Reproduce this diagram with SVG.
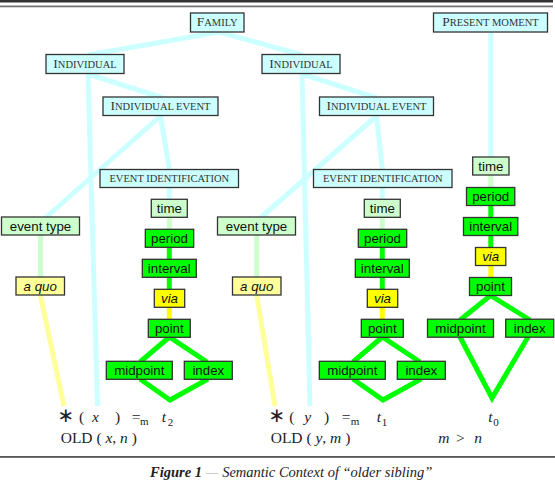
<svg xmlns="http://www.w3.org/2000/svg" width="555" height="485" viewBox="0 0 555 485">
<style>
.b{stroke:#333;stroke-width:1.3}
.cy{fill:#ccffff}.lg{fill:#ccffcc}.g{fill:#00ff00}.y{fill:#ffff00}.ly{fill:#ffff99}
.s{font-family:"Liberation Sans",Arial,sans-serif;font-size:13.3px;fill:#111;text-anchor:middle}
.sc{font-family:"Liberation Serif","Times New Roman",serif;fill:#333;text-anchor:middle;font-size:10.5px}
.big{font-size:13.5px}
.f{font-family:"Liberation Serif","Times New Roman",serif;font-size:15.5px;fill:#222}
.sub{font-size:11px}
.i{font-style:italic}
.ast{font-family:"DejaVu Sans",sans-serif;font-size:20px}
.c path,.c line,.c polyline{fill:none;stroke-width:5}
.kc{stroke:#ccffff}.klg{stroke:#ccffcc}.kg{stroke:#00ff00}.ky{stroke:#ffff00}.kly{stroke:#ffff99}
</style>
<rect x="0" y="0" width="553" height="2.5" fill="#333"/>
<rect x="0" y="5.5" width="553" height="1.8" fill="#777"/>
<rect x="0" y="456" width="555" height="1.8" fill="#555"/>
<g id="connectors" class="c">
<line class="kc" x1="219" y1="32" x2="88" y2="55"/>
<line class="kc" x1="219" y1="32" x2="302" y2="55"/>
<line class="kc" x1="88" y1="73" x2="97.5" y2="406"/>
<line class="kc" x1="302" y1="73" x2="310" y2="406"/>
<line class="kc" x1="88" y1="74" x2="163" y2="98"/>
<line class="kc" x1="302" y1="74" x2="377" y2="98"/>
<line class="kc" x1="160.5" y1="116" x2="43" y2="220"/>
<line class="kc" x1="376.5" y1="116" x2="258" y2="220"/>
<polyline class="kc" points="160.5,116 169.3,169 169.3,200"/>
<polyline class="kc" points="376.5,116 382.3,169 382.3,200"/>
<line class="kc" x1="490.8" y1="32" x2="490.8" y2="157"/>
<line class="klg" x1="169.3" y1="217" x2="169.3" y2="230"/>
<line class="klg" x1="382.3" y1="217" x2="382.3" y2="230"/>
<line class="klg" x1="490.8" y1="175" x2="490.8" y2="188"/>
<line class="klg" x1="40.5" y1="235" x2="40.5" y2="278"/>
<line class="klg" x1="256.7" y1="235" x2="256.7" y2="278"/>
<line class="kg" x1="169.3" y1="247" x2="169.3" y2="290"/>
<line class="kg" x1="382.3" y1="247" x2="382.3" y2="290"/>
<line class="kg" x1="490.8" y1="205" x2="490.8" y2="248"/>
<line class="ky" x1="169.3" y1="307" x2="169.3" y2="320"/>
<line class="ky" x1="382.3" y1="307" x2="382.3" y2="320"/>
<line class="ky" x1="490.8" y1="265" x2="490.8" y2="278"/>
<polyline class="kg" points="140,362 169.3,337 207,362"/>
<polyline class="kg" points="353,362 382.3,337 420,362"/>
<polyline class="kg" points="460,320 490.5,295.5 530,320"/>
<polyline class="kg" points="140,379 170,400 208,379"/>
<polyline class="kg" points="353,379 383,400 421,379"/>
<polyline class="kg" points="460,337 492,398 528,337"/>
<line class="kly" x1="40.3" y1="295" x2="64" y2="406"/>
<line class="kly" x1="256.7" y1="295" x2="275" y2="406"/>
</g>
<g id="family"><rect class="b cy" x="190.5" y="13" width="53.5" height="19"/><text class="sc" x="217.2" y="26.3"><tspan class="big">F</tspan>AMILY</text></g>
<g id="individual1"><rect class="b cy" x="46" y="54.5" width="78" height="19"/><text class="sc" x="85" y="67.8"><tspan class="big">I</tspan>NDIVIDUAL</text></g>
<g id="individual2"><rect class="b cy" x="262" y="54.5" width="78" height="19"/><text class="sc" x="301" y="67.8"><tspan class="big">I</tspan>NDIVIDUAL</text></g>
<g id="indevent1"><rect class="b cy" x="103" y="97" width="115" height="18.5"/><text class="sc" x="160.5" y="110.2"><tspan class="big">I</tspan>NDIVIDUAL EVENT</text></g>
<g id="indevent2"><rect class="b cy" x="319.5" y="97" width="114" height="18.5"/><text class="sc" x="376.5" y="110.2"><tspan class="big">I</tspan>NDIVIDUAL EVENT</text></g>
<g id="eventid1"><rect class="b cy" x="100" y="169.5" width="138.5" height="18"/><text class="sc" x="169.25" y="182.3">EVENT IDENTIFICATION</text></g>
<g id="eventid2"><rect class="b cy" x="313.5" y="169.5" width="138.5" height="18"/><text class="sc" x="382.75" y="182.3">EVENT IDENTIFICATION</text></g>
<g id="present"><rect class="b cy" x="433.5" y="13" width="114" height="19"/><text class="sc" x="490.5" y="26.3"><tspan class="big">P</tspan>RESENT MOMENT</text></g>

<g id="eventtype1"><rect class="b lg" x="1.5" y="217" width="78" height="18"/><text class="s" x="40.5" y="230.7">event type</text></g>
<g id="aquo1"><rect class="b ly" x="16" y="277" width="48.5" height="18"/><text class="s i" x="40.2" y="290.7">a quo</text></g>
<g id="eventtype2"><rect class="b lg" x="217.5" y="217" width="78" height="18"/><text class="s" x="256.5" y="230.7">event type</text></g>
<g id="aquo2"><rect class="b ly" x="232.5" y="277" width="48.5" height="18"/><text class="s i" x="256.7" y="290.7">a quo</text></g>

<g id="time1"><rect class="b lg" x="151.3" y="199.3" width="36" height="18"/><text class="s" x="169.3" y="213">time</text></g>
<g id="period1"><rect class="b g" x="145.3" y="229.3" width="48.4" height="18"/><text class="s" x="169.5" y="243">period</text></g>
<g id="interval1"><rect class="b g" x="142.3" y="259.3" width="54" height="18"/><text class="s" x="169.3" y="273">interval</text></g>
<g id="via1"><rect class="b y" x="154.3" y="289.3" width="30.4" height="18"/><text class="s i" x="169.5" y="303">via</text></g>
<g id="point1"><rect class="b g" x="148.3" y="319.3" width="42" height="18"/><text class="s" x="169.3" y="333">point</text></g>
<g id="midpoint1"><rect class="b g" x="106.3" y="361.3" width="66" height="18"/><text class="s" x="139.3" y="375">midpoint</text></g>
<g id="index1"><rect class="b g" x="184.3" y="361.3" width="48" height="18"/><text class="s" x="208.3" y="375">index</text></g>

<g id="time2"><rect class="b lg" x="364.3" y="199.3" width="36" height="18"/><text class="s" x="382.3" y="213">time</text></g>
<g id="period2"><rect class="b g" x="358.3" y="229.3" width="48.4" height="18"/><text class="s" x="382.5" y="243">period</text></g>
<g id="interval2"><rect class="b g" x="355.3" y="259.3" width="54" height="18"/><text class="s" x="382.3" y="273">interval</text></g>
<g id="via2"><rect class="b y" x="367.3" y="289.3" width="30.4" height="18"/><text class="s i" x="382.5" y="303">via</text></g>
<g id="point2"><rect class="b g" x="361.3" y="319.3" width="42" height="18"/><text class="s" x="382.3" y="333">point</text></g>
<g id="midpoint2"><rect class="b g" x="319.3" y="361.3" width="66" height="18"/><text class="s" x="352.3" y="375">midpoint</text></g>
<g id="index2"><rect class="b g" x="397.3" y="361.3" width="48" height="18"/><text class="s" x="421.3" y="375">index</text></g>

<g id="time3"><rect class="b lg" x="472.7" y="157" width="36.3" height="18"/><text class="s" x="490.8" y="170.7">time</text></g>
<g id="period3"><rect class="b g" x="466.5" y="187.5" width="48.3" height="18"/><text class="s" x="490.7" y="201.2">period</text></g>
<g id="interval3"><rect class="b g" x="463.5" y="217.5" width="54.3" height="18"/><text class="s" x="490.7" y="231.2">interval</text></g>
<g id="via3"><rect class="b y" x="475.5" y="247.5" width="30.3" height="18"/><text class="s i" x="490.7" y="261.2">via</text></g>
<g id="point3"><rect class="b g" x="469.5" y="277.5" width="42" height="18"/><text class="s" x="490.5" y="291.2">point</text></g>
<g id="midpoint3"><rect class="b g" x="427.5" y="319.2" width="66" height="18"/><text class="s" x="460.5" y="332.9">midpoint</text></g>
<g id="index3"><rect class="b g" x="505.7" y="319.2" width="48" height="18"/><text class="s" x="529.7" y="332.9">index</text></g>

<g id="formulas" class="f">
<text x="57.5" y="421.5" class="ast">∗</text>
<text x="79" y="422">(</text>
<text x="92" y="422" class="i">x</text>
<text x="115" y="422">)</text>
<text x="131.7" y="422">=</text>
<text x="140" y="424.5" class="sub">m</text>
<text x="161.7" y="422" class="i">t</text>
<text x="167.7" y="425.5" class="sub">2</text>
<text x="60.7" y="443">OLD ( <tspan class="i">x</tspan>, <tspan class="i">n</tspan> )</text>

<text x="268.5" y="421.5" class="ast">∗</text>
<text x="289.3" y="422">(</text>
<text x="304.3" y="422" class="i">y</text>
<text x="324" y="422">)</text>
<text x="341.7" y="422">=</text>
<text x="350.7" y="424.5" class="sub">m</text>
<text x="376.7" y="422" class="i">t</text>
<text x="381.7" y="425.5" class="sub">1</text>
<text x="270.7" y="443">OLD ( <tspan class="i">y</tspan>, <tspan class="i">m</tspan> )</text>

<text x="488.3" y="422" class="i">t</text>
<text x="493.3" y="425.5" class="sub">0</text>
<text x="438.3" y="443" class="i">m</text>
<text x="456" y="443">&gt;</text>
<text x="474.3" y="443" class="i">n</text>
</g>
<text id="caption" x="150" y="477" style="font-family:'Liberation Serif','Times New Roman',serif;font-size:14.5px;font-style:italic;fill:#222"><tspan font-weight="bold">Figure 1</tspan> <tspan fill="#aaa">—</tspan> Semantic Context of “older sibling”</text>
</svg>
